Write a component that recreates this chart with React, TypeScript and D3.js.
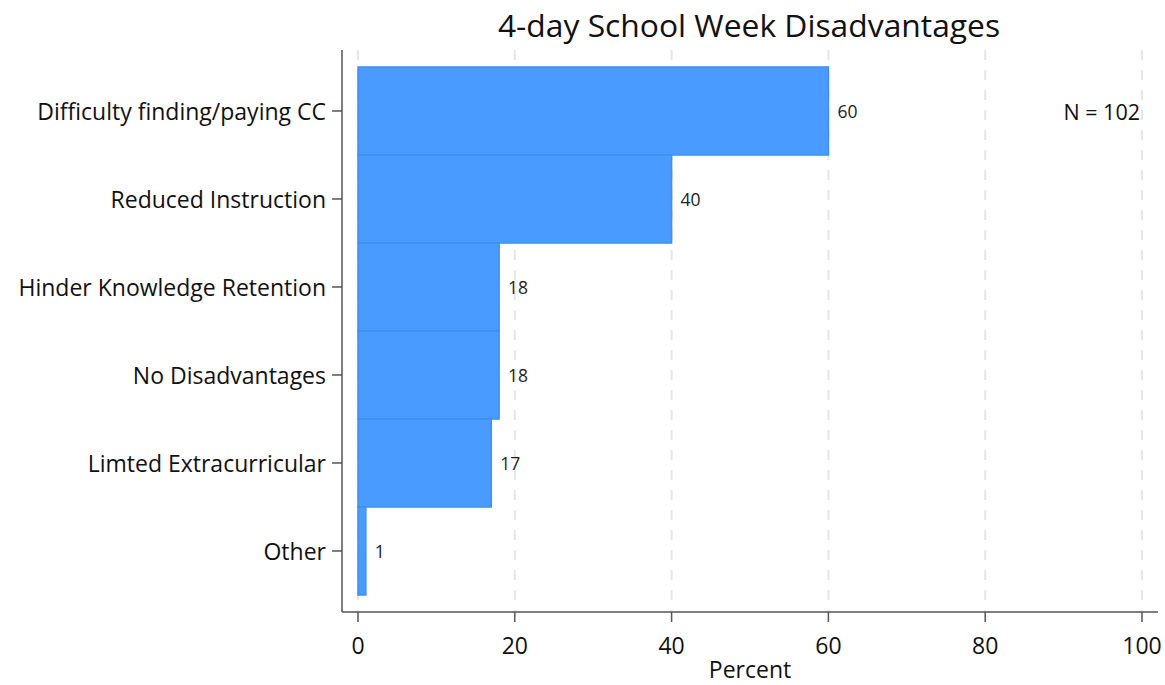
import React from "react";
import * as d3 from "d3";

const categories = [
  "Difficulty finding/paying CC",
  "Reduced Instruction",
  "Hinder Knowledge Retention",
  "No Disadvantages",
  "Limted Extracurricular",
  "Other",
];
const values = [60, 40, 18, 18, 17, 1];
const xTicks = [0, 20, 40, 60, 80, 100];
const title = "4-day School Week Disadvantages";
const xLabel = "Percent";
const note = "N = 102";

const W = 1165;
const H = 685;
const FONT = "'Open Sans', 'Noto Sans', sans-serif";

export default function App() {
  const x = d3.scaleLinear().domain([0, 100]).range([358, 1142]);
  const y = d3.scaleBand().domain(categories).range([67, 595]).padding(0);
  const axisLeft = 342;
  const axisBottom = 612;
  return (
    <svg width={W} height={H} style={{ position: "absolute", left: 0, top: 0, background: "#fff" }} fontFamily={FONT}>
      <text x={749} y={24} textAnchor="middle" dominantBaseline="central" fontSize={31.8} fill="#111">{title}</text>
      {xTicks.map((t) => (
        <line key={"g" + t} x1={x(t)} x2={x(t)} y1={50} y2={axisBottom} stroke="#e6e6e6" strokeWidth={2} strokeDasharray="10,10" />
      ))}
      {categories.map((c, i) => (
        <rect key={c} x={x(0)} y={y(c)!} width={x(values[i]) - x(0)} height={y.bandwidth()} fill="#4a9bff" stroke="#3d8ff5" strokeWidth={1.5} />
      ))}
      {categories.map((c, i) => (
        <text key={"v" + c} x={x(values[i]) + 9} y={y(c)! + y.bandwidth() / 2} dominantBaseline="central" fontSize={17.5} fill="#222">{values[i]}</text>
      ))}
      <text x={1140} y={y(categories[0])! + y.bandwidth() / 2} dominantBaseline="central" textAnchor="end" fontSize={21.5} fill="#111">{note}</text>
      <line x1={axisLeft} x2={axisLeft} y1={50} y2={axisBottom} stroke="#555" strokeWidth={1.5} />
      <line x1={axisLeft} x2={1158} y1={axisBottom} y2={axisBottom} stroke="#555" strokeWidth={1.5} />
      {categories.map((c) => (
        <g key={"t" + c}>
          <line x1={axisLeft - 10} x2={axisLeft} y1={y(c)! + y.bandwidth() / 2} y2={y(c)! + y.bandwidth() / 2} stroke="#555" strokeWidth={1.5} />
          <text x={axisLeft - 16} y={y(c)! + y.bandwidth() / 2} textAnchor="end" dominantBaseline="central" fontSize={23} fill="#111">{c}</text>
        </g>
      ))}
      {xTicks.map((t) => (
        <g key={"x" + t}>
          <line x1={x(t)} x2={x(t)} y1={axisBottom} y2={axisBottom + 10} stroke="#555" strokeWidth={1.5} />
          <text x={x(t)} y={axisBottom + 33} textAnchor="middle" dominantBaseline="central" fontSize={23} fill="#111">{t}</text>
        </g>
      ))}
      <text x={750} y={669} textAnchor="middle" dominantBaseline="central" fontSize={23} fill="#111">{xLabel}</text>
    </svg>
  );
}
